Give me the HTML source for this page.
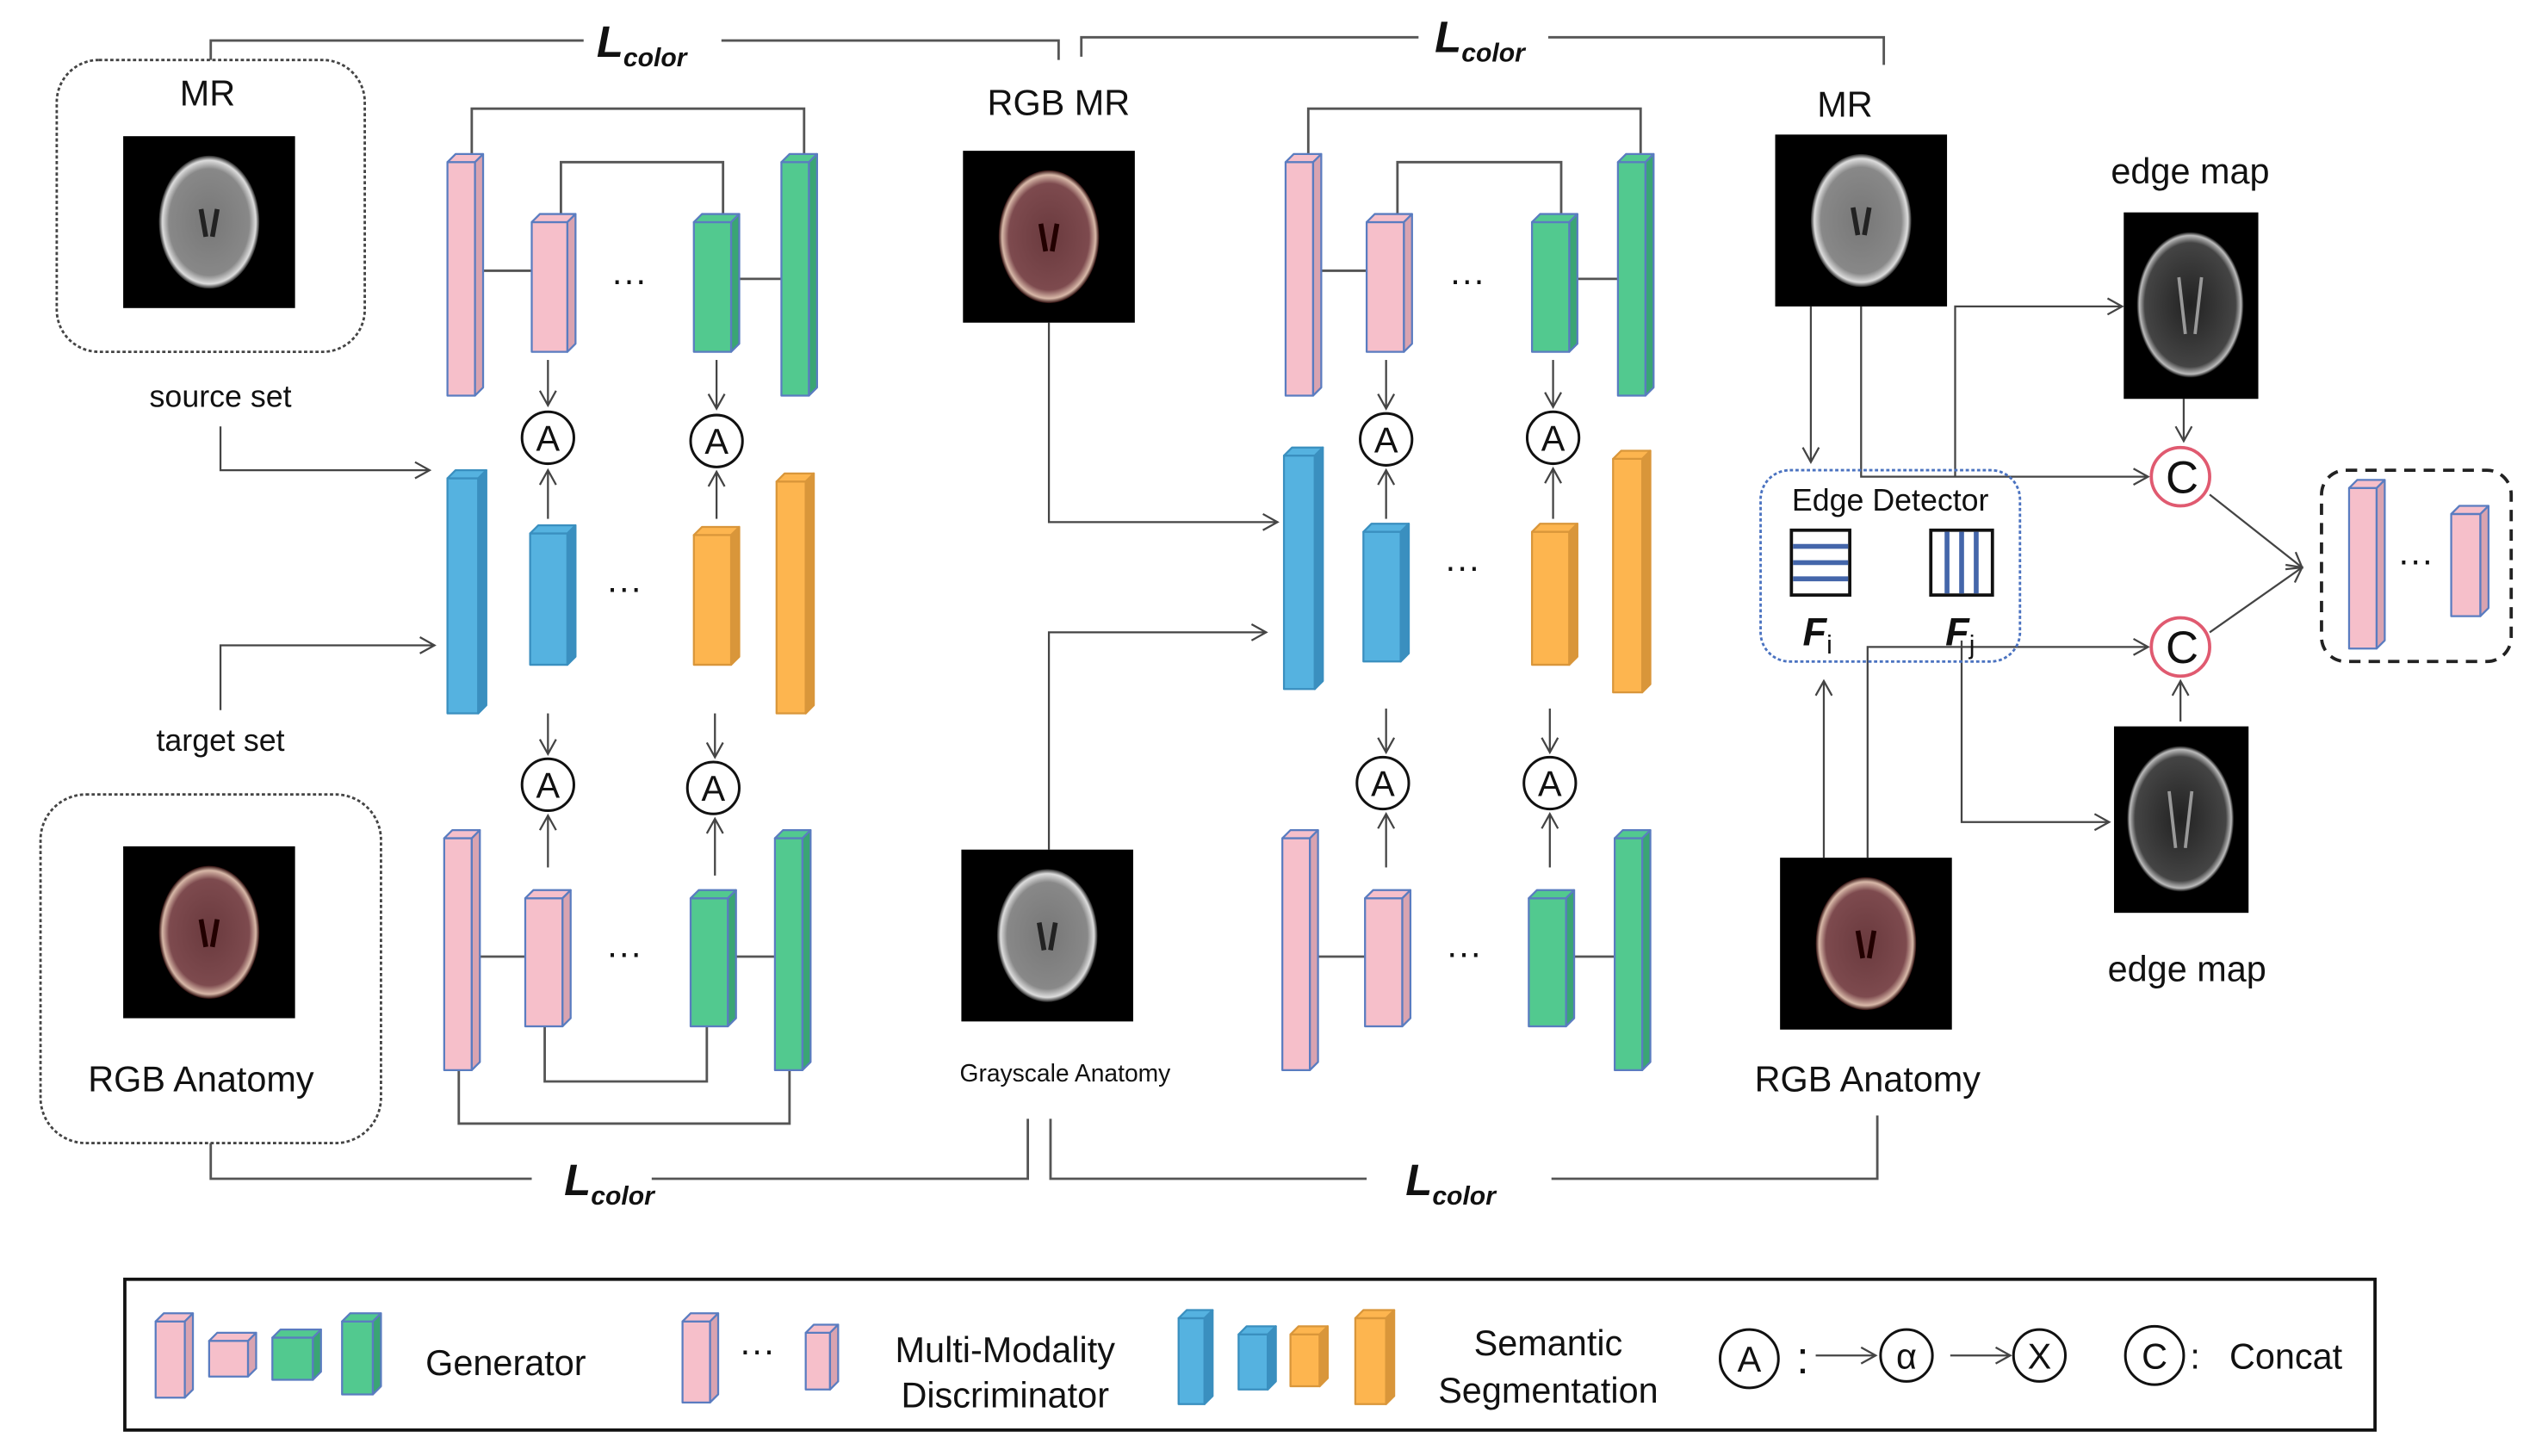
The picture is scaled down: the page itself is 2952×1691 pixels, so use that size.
<!DOCTYPE html>
<html><head><meta charset="utf-8"><style>
html,body{margin:0;padding:0;background:#fff;}
svg{display:block;}
text{font-family:"Liberation Sans",sans-serif;fill:#111;}
.L{font-family:"Liberation Serif",serif;font-style:italic;font-weight:bold;font-size:27px;}
.Ls{font-size:16px;}
</style></head><body>
<svg width="2952" height="1691" viewBox="0 0 1568 898" preserveAspectRatio="none" xmlns="http://www.w3.org/2000/svg">
<defs>
<marker id="ar" markerWidth="12" markerHeight="12" refX="10" refY="6" orient="auto" markerUnits="userSpaceOnUse">
<path d="M1,1 L10,6 L1,11" fill="none" stroke="#444" stroke-width="1.2"/></marker>
<radialGradient id="gb" cx="50%" cy="50%" r="50%"><stop offset="0" stop-color="#777"/><stop offset="0.8" stop-color="#888"/><stop offset="0.93" stop-color="#ddd"/><stop offset="1" stop-color="#222"/></radialGradient>
<radialGradient id="rb" cx="50%" cy="50%" r="50%"><stop offset="0" stop-color="#6a3a3e"/><stop offset="0.8" stop-color="#7d4a4e"/><stop offset="0.93" stop-color="#d8b8a8"/><stop offset="1" stop-color="#2a0a0a"/></radialGradient>
<radialGradient id="eb" cx="50%" cy="50%" r="50%"><stop offset="0" stop-color="#222"/><stop offset="0.85" stop-color="#444"/><stop offset="0.95" stop-color="#bbb"/><stop offset="1" stop-color="#000"/></radialGradient>
<g id="gimg"><rect width="106" height="106" fill="#000"/><ellipse cx="53" cy="53" rx="31" ry="41" fill="url(#gb)"/><path d="M48,45 L51,62 M58,45 L55,62" stroke="#222" stroke-width="3"/></g>
<g id="rimg"><rect width="106" height="106" fill="#000"/><ellipse cx="53" cy="53" rx="31" ry="41" fill="url(#rb)"/><path d="M48,45 L51,62 M58,45 L55,62" stroke="#200" stroke-width="3"/></g>
<g id="eimg"><rect width="83" height="115" fill="#000"/><ellipse cx="41" cy="57" rx="33" ry="45" fill="url(#eb)"/><path d="M34,40 L38,75 M48,40 L44,75" stroke="#999" stroke-width="2"/></g>
</defs>
<g fill="none" stroke="#555" stroke-width="1.5">
<polyline points="130,37 130,25 360,25"/><polyline points="445,25 653,25 653,37"/>
<polyline points="667,35 667,23 875,23"/><polyline points="955,23 1162,23 1162,40"/>
<polyline points="130,705 130,727 328,727"/><polyline points="402,727 634,727 634,690"/>
<polyline points="648,690 648,727 843,727"/><polyline points="957,727 1158,727 1158,688"/>
<polyline points="291,95 291,67 496,67 496,95"/><polyline points="346,132 346,100 446,100 446,132"/>
<polyline points="807,95 807,67 1012,67 1012,95"/><polyline points="862,132 862,100 963,100 963,132"/>
<polyline points="336,633 336,667 436,667 436,633"/><polyline points="283,660 283,693 487,693 487,660"/>
<line x1="298" y1="167" x2="328" y2="167"/><line x1="456" y1="172" x2="482" y2="172"/>
<line x1="815" y1="167" x2="843" y2="167"/><line x1="973" y1="172" x2="998" y2="172"/>
<line x1="296" y1="590" x2="324" y2="590"/><line x1="454" y1="590" x2="478" y2="590"/>
<line x1="813" y1="590" x2="842" y2="590"/><line x1="971" y1="590" x2="996" y2="590"/>
</g>
<g fill="none" stroke="#444" stroke-width="1.2" marker-end="url(#ar)">
<polyline points="136,263 136,290 265,290"/><polyline points="136,438 136,398 268,398"/>
<line x1="338" y1="222" x2="338" y2="250"/><line x1="442" y1="222" x2="442" y2="252"/>
<line x1="338" y1="320" x2="338" y2="290"/><line x1="442" y1="320" x2="442" y2="291"/>
<line x1="338" y1="440" x2="338" y2="465"/><line x1="441" y1="440" x2="441" y2="467"/>
<line x1="338" y1="535" x2="338" y2="503"/><line x1="441" y1="540" x2="441" y2="505"/>
<line x1="855" y1="222" x2="855" y2="252"/><line x1="958" y1="222" x2="958" y2="251"/>
<line x1="855" y1="320" x2="855" y2="290"/><line x1="958" y1="320" x2="958" y2="289"/>
<line x1="855" y1="437" x2="855" y2="464"/><line x1="956" y1="437" x2="956" y2="464"/>
<line x1="855" y1="535" x2="855" y2="502"/><line x1="956" y1="535" x2="956" y2="502"/>
<polyline points="647,199 647,322 788,322"/><polyline points="647,524 647,390 781,390"/>
<line x1="1117" y1="189" x2="1117" y2="285"/><polyline points="1148,189 1148,294 1325,294"/>
<polyline points="1206,294 1206,189 1309,189"/><line x1="1347" y1="246" x2="1347" y2="272"/>
<line x1="1125" y1="529" x2="1125" y2="420"/><polyline points="1152,529 1152,399 1325,399"/>
<polyline points="1210,395 1210,507 1301,507"/><line x1="1345" y1="445" x2="1345" y2="420"/>
<line x1="1363" y1="305" x2="1420" y2="350"/><line x1="1363" y1="390" x2="1420" y2="350"/>
<line x1="1120" y1="836" x2="1157" y2="836"/><line x1="1203" y1="836" x2="1240" y2="836"/>
</g>
<rect x="35" y="37" width="190" height="180" rx="26" fill="none" stroke="#444" stroke-width="1.5" stroke-dasharray="2,1.5"/>
<rect x="25" y="490" width="210" height="215" rx="28" fill="none" stroke="#444" stroke-width="1.5" stroke-dasharray="2,1.5"/>
<rect x="1086" y="290" width="160" height="118" rx="18" fill="none" stroke="#4a72c0" stroke-width="1.5" stroke-dasharray="2,1.5"/>
<rect x="1432" y="290" width="117" height="118" rx="15" fill="none" stroke="#222" stroke-width="2" stroke-dasharray="7,5"/>
<rect x="77" y="789" width="1388" height="93" fill="none" stroke="#111" stroke-width="2"/>
<use href="#gimg" x="76" y="84"/><use href="#rimg" x="76" y="522"/>
<use href="#rimg" x="594" y="93"/><use href="#gimg" x="593" y="524"/>
<use href="#gimg" x="1095" y="83"/><use href="#rimg" x="1098" y="529"/>
<use href="#eimg" x="1310" y="131"/><use href="#eimg" x="1304" y="448"/>
<rect x="1105" y="327" width="36" height="40" fill="#fff" stroke="#111" stroke-width="2"/>
<g stroke="#4466aa" stroke-width="3"><line x1="1106" y1="337" x2="1140" y2="337"/><line x1="1106" y1="347" x2="1140" y2="347"/><line x1="1106" y1="357" x2="1140" y2="357"/></g>
<rect x="1191" y="327" width="38" height="40" fill="#fff" stroke="#111" stroke-width="2"/>
<g stroke="#4466aa" stroke-width="3"><line x1="1201" y1="328" x2="1201" y2="366"/><line x1="1210" y1="328" x2="1210" y2="366"/><line x1="1219" y1="328" x2="1219" y2="366"/></g>
<g stroke-width="1.2" stroke-linejoin="round">
<g fill="#f6bfca" stroke="#5a7cc0">
<g transform="translate(276,95)"><rect x="0" y="5" width="17" height="144"/><polygon points="0,5 5,0 22,0 17,5"/><polygon points="17,5 22,0 22,144 17,149" fill="#d9a3b0"/></g>
<g transform="translate(328,132)"><rect x="0" y="5" width="22" height="80"/><polygon points="0,5 5,0 27,0 22,5"/><polygon points="22,5 27,0 27,80 22,85" fill="#d9a3b0"/></g>
<g transform="translate(274,512)"><rect x="0" y="5" width="17" height="143"/><polygon points="0,5 5,0 22,0 17,5"/><polygon points="17,5 22,0 22,143 17,148" fill="#d9a3b0"/></g>
<g transform="translate(324,549)"><rect x="0" y="5" width="23" height="79"/><polygon points="0,5 5,0 28,0 23,5"/><polygon points="23,5 28,0 28,79 23,84" fill="#d9a3b0"/></g>
<g transform="translate(793,95)"><rect x="0" y="5" width="17" height="144"/><polygon points="0,5 5,0 22,0 17,5"/><polygon points="17,5 22,0 22,144 17,149" fill="#d9a3b0"/></g>
<g transform="translate(843,132)"><rect x="0" y="5" width="23" height="80"/><polygon points="0,5 5,0 28,0 23,5"/><polygon points="23,5 28,0 28,80 23,85" fill="#d9a3b0"/></g>
<g transform="translate(791,512)"><rect x="0" y="5" width="17" height="143"/><polygon points="0,5 5,0 22,0 17,5"/><polygon points="17,5 22,0 22,143 17,148" fill="#d9a3b0"/></g>
<g transform="translate(842,549)"><rect x="0" y="5" width="23" height="79"/><polygon points="0,5 5,0 28,0 23,5"/><polygon points="23,5 28,0 28,79 23,84" fill="#d9a3b0"/></g>
<g transform="translate(1449,296)"><rect x="0" y="5" width="17" height="99"/><polygon points="0,5 5,0 22,0 17,5"/><polygon points="17,5 22,0 22,99 17,104" fill="#d9a3b0"/></g>
<g transform="translate(1512,312)"><rect x="0" y="5" width="18" height="63"/><polygon points="0,5 5,0 23,0 18,5"/><polygon points="18,5 23,0 23,63 18,68" fill="#d9a3b0"/></g>
<g transform="translate(96,810)"><rect x="0" y="5" width="18" height="47"/><polygon points="0,5 5,0 23,0 18,5"/><polygon points="18,5 23,0 23,47 18,52" fill="#d9a3b0"/></g>
<g transform="translate(129,822)"><rect x="0" y="5" width="24" height="22"/><polygon points="0,5 5,0 29,0 24,5"/><polygon points="24,5 29,0 29,22 24,27" fill="#d9a3b0"/></g>
<g transform="translate(421,810)"><rect x="0" y="5" width="17" height="50"/><polygon points="0,5 5,0 22,0 17,5"/><polygon points="17,5 22,0 22,50 17,55" fill="#d9a3b0"/></g>
<g transform="translate(497,817)"><rect x="0" y="5" width="15" height="35"/><polygon points="0,5 5,0 20,0 15,5"/><polygon points="15,5 20,0 20,35 15,40" fill="#d9a3b0"/></g>
</g>
<g fill="#52c98f" stroke="#5a7cc0">
<g transform="translate(428,132)"><rect x="0" y="5" width="23" height="80"/><polygon points="0,5 5,0 28,0 23,5"/><polygon points="23,5 28,0 28,80 23,85" fill="#3aa574"/></g>
<g transform="translate(482,95)"><rect x="0" y="5" width="17" height="144"/><polygon points="0,5 5,0 22,0 17,5"/><polygon points="17,5 22,0 22,144 17,149" fill="#3aa574"/></g>
<g transform="translate(426,549)"><rect x="0" y="5" width="23" height="79"/><polygon points="0,5 5,0 28,0 23,5"/><polygon points="23,5 28,0 28,79 23,84" fill="#3aa574"/></g>
<g transform="translate(478,512)"><rect x="0" y="5" width="17" height="143"/><polygon points="0,5 5,0 22,0 17,5"/><polygon points="17,5 22,0 22,143 17,148" fill="#3aa574"/></g>
<g transform="translate(945,132)"><rect x="0" y="5" width="23" height="80"/><polygon points="0,5 5,0 28,0 23,5"/><polygon points="23,5 28,0 28,80 23,85" fill="#3aa574"/></g>
<g transform="translate(998,95)"><rect x="0" y="5" width="17" height="144"/><polygon points="0,5 5,0 22,0 17,5"/><polygon points="17,5 22,0 22,144 17,149" fill="#3aa574"/></g>
<g transform="translate(943,549)"><rect x="0" y="5" width="23" height="79"/><polygon points="0,5 5,0 28,0 23,5"/><polygon points="23,5 28,0 28,79 23,84" fill="#3aa574"/></g>
<g transform="translate(996,512)"><rect x="0" y="5" width="17" height="143"/><polygon points="0,5 5,0 22,0 17,5"/><polygon points="17,5 22,0 22,143 17,148" fill="#3aa574"/></g>
<g transform="translate(168,820)"><rect x="0" y="5" width="25" height="26"/><polygon points="0,5 5,0 30,0 25,5"/><polygon points="25,5 30,0 30,26 25,31" fill="#3aa574"/></g>
<g transform="translate(211,810)"><rect x="0" y="5" width="19" height="45"/><polygon points="0,5 5,0 24,0 19,5"/><polygon points="19,5 24,0 24,45 19,50" fill="#3aa574"/></g>
</g>
<g fill="#55b2e0" stroke="#3a8fbf">
<g transform="translate(276,290)"><rect x="0" y="5" width="19" height="145"/><polygon points="0,5 5,0 24,0 19,5"/><polygon points="19,5 24,0 24,145 19,150" fill="#3a8fbf"/></g>
<g transform="translate(327,324)"><rect x="0" y="5" width="23" height="81"/><polygon points="0,5 5,0 28,0 23,5"/><polygon points="23,5 28,0 28,81 23,86" fill="#3a8fbf"/></g>
<g transform="translate(792,276)"><rect x="0" y="5" width="19" height="144"/><polygon points="0,5 5,0 24,0 19,5"/><polygon points="19,5 24,0 24,144 19,149" fill="#3a8fbf"/></g>
<g transform="translate(841,323)"><rect x="0" y="5" width="23" height="80"/><polygon points="0,5 5,0 28,0 23,5"/><polygon points="23,5 28,0 28,80 23,85" fill="#3a8fbf"/></g>
<g transform="translate(727,808)"><rect x="0" y="5" width="16" height="53"/><polygon points="0,5 5,0 21,0 16,5"/><polygon points="16,5 21,0 21,53 16,58" fill="#3a8fbf"/></g>
<g transform="translate(764,818)"><rect x="0" y="5" width="18" height="34"/><polygon points="0,5 5,0 23,0 18,5"/><polygon points="18,5 23,0 23,34 18,39" fill="#3a8fbf"/></g>
</g>
<g fill="#fdb54f" stroke="#d9963a">
<g transform="translate(428,325)"><rect x="0" y="5" width="23" height="80"/><polygon points="0,5 5,0 28,0 23,5"/><polygon points="23,5 28,0 28,80 23,85" fill="#d9963a"/></g>
<g transform="translate(479,292)"><rect x="0" y="5" width="18" height="143"/><polygon points="0,5 5,0 23,0 18,5"/><polygon points="18,5 23,0 23,143 18,148" fill="#d9963a"/></g>
<g transform="translate(945,323)"><rect x="0" y="5" width="23" height="82"/><polygon points="0,5 5,0 28,0 23,5"/><polygon points="23,5 28,0 28,82 23,87" fill="#d9963a"/></g>
<g transform="translate(995,278)"><rect x="0" y="5" width="18" height="144"/><polygon points="0,5 5,0 23,0 18,5"/><polygon points="18,5 23,0 23,144 18,149" fill="#d9963a"/></g>
<g transform="translate(796,818)"><rect x="0" y="5" width="18" height="32"/><polygon points="0,5 5,0 23,0 18,5"/><polygon points="18,5 23,0 23,32 18,37" fill="#d9963a"/></g>
<g transform="translate(836,808)"><rect x="0" y="5" width="19" height="53"/><polygon points="0,5 5,0 24,0 19,5"/><polygon points="19,5 24,0 24,53 19,58" fill="#d9963a"/></g>
</g>
</g>
<g fill="#fff" stroke="#111" stroke-width="1.6">
<circle cx="338" cy="270" r="16"/><circle cx="442" cy="272" r="16"/>
<circle cx="338" cy="484" r="16"/><circle cx="440" cy="486" r="16"/>
<circle cx="855" cy="271" r="16"/><circle cx="958" cy="270" r="16"/>
<circle cx="853" cy="483" r="16"/><circle cx="956" cy="483" r="16"/>
<circle cx="1079" cy="838" r="18"/><circle cx="1176" cy="836" r="16"/><circle cx="1258" cy="836" r="16"/><circle cx="1329" cy="836" r="18"/>
</g>
<g fill="#fff" stroke="#e05a70" stroke-width="2"><circle cx="1345" cy="294" r="18"/><circle cx="1345" cy="399" r="18"/></g>
<g font-size="22" text-anchor="middle">
<text x="338" y="278">A</text><text x="442" y="280">A</text><text x="338" y="492">A</text><text x="440" y="494">A</text>
<text x="855" y="279">A</text><text x="958" y="278">A</text><text x="853" y="491">A</text><text x="956" y="491">A</text>
<text x="1079" y="846">A</text><text x="1176" y="844">α</text><text x="1258" y="844">X</text><text x="1329" y="844">C</text>
<text x="1346" y="304" font-size="28">C</text><text x="1346" y="409" font-size="28">C</text>
<text x="1112" y="847" font-size="28">:</text><text x="1354" y="844">:</text>
</g>
<g font-size="22" text-anchor="middle">
<text x="388" y="180">···</text><text x="385" y="370">···</text><text x="385" y="595">···</text>
<text x="905" y="180">···</text><text x="902" y="357">···</text><text x="903" y="595">···</text>
<text x="1490" y="353">···</text><text x="467" y="840">···</text>
</g>
<g text-anchor="middle" font-size="22">
<text x="128" y="65">MR</text><text x="653" y="71">RGB MR</text><text x="1138" y="72">MR</text>
<text x="136" y="251" font-size="19">source set</text><text x="136" y="463" font-size="19">target set</text>
<text x="124" y="673">RGB Anatomy</text><text x="1152" y="673">RGB Anatomy</text>
<text x="657" y="667" font-size="15">Grayscale Anatomy</text>
<text x="1351" y="113">edge map</text><text x="1349" y="605">edge map</text>
<text x="1166" y="315" font-size="19">Edge Detector</text>
<text x="312" y="848">Generator</text>
<text x="620" y="840">Multi-Modality</text><text x="620" y="868">Discriminator</text>
<text x="955" y="836">Semantic</text><text x="955" y="865">Segmentation</text>
<text x="1410" y="844">Concat</text>
</g>
<g class="L">
<text x="368" y="35">L<tspan class="Ls" dy="6">color</tspan></text>
<text x="885" y="32">L<tspan class="Ls" dy="6">color</tspan></text>
<text x="348" y="737">L<tspan class="Ls" dy="6">color</tspan></text>
<text x="867" y="737">L<tspan class="Ls" dy="6">color</tspan></text>
<text x="1112" y="398" font-size="24">F<tspan class="Ls" dy="5" font-style="normal" font-weight="normal">i</tspan></text>
<text x="1200" y="398" font-size="24">F<tspan class="Ls" dy="5" font-style="normal" font-weight="normal">j</tspan></text>
</g>
</svg>
</body></html>
